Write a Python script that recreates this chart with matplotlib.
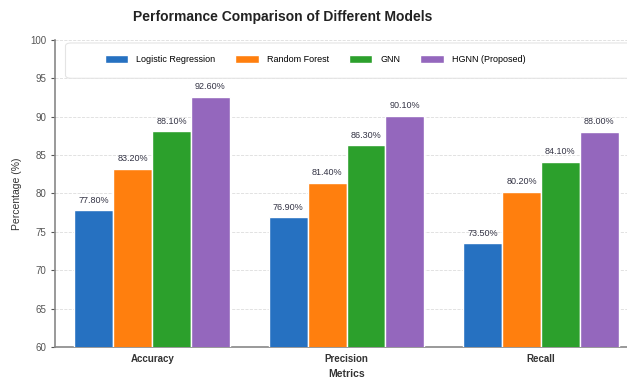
import matplotlib.pyplot as plt
from matplotlib.patches import FancyBboxPatch
import numpy as np

plt.rcParams['font.family'] = ['Liberation Sans', 'DejaVu Sans']

metrics = ['Accuracy', 'Precision', 'Recall']
models = ['Logistic Regression', 'Random Forest', 'GNN', 'HGNN (Proposed)']
lr = [77.8, 76.9, 73.5]
rf = [83.2, 81.4, 80.2]
gnn = [88.1, 86.3, 84.1]
hgnn = [92.6, 90.1, 88.0]
colors = ['#2671c1', '#ff7f0e', '#2ca02c', '#9467bd']

fig = plt.figure(figsize=(6.27, 3.80), dpi=100)
ax = fig.add_axes([0.0877, 0.087, 0.93, 0.808])

x = np.arange(len(metrics))
w = 0.2
for i, (vals, name) in enumerate(zip([lr, rf, gnn, hgnn], models)):
    bars = ax.bar(x + (i - 1.5) * w, vals, w, color=colors[i], label=name,
                  edgecolor='white', linewidth=1, zorder=3)
    for b, v in zip(bars, vals):
        ax.annotate(f'{v:.2f}%', (b.get_x() + b.get_width() / 2, v),
                    xytext=(0, 4), textcoords='offset points',
                    ha='center', va='bottom', fontsize=6.5, color='#333344')

ax.set_ylim(60, 100)
ax.set_xlim(-0.5, 2.5)
ax.set_yticks(range(60, 101, 5))
ax.set_xticks(x)
ax.set_xticklabels(metrics, fontweight='bold', fontsize=7, color='#333333')
ax.tick_params(axis='y', labelsize=7, colors='#555555', length=3)
ax.tick_params(axis='x', length=0, pad=5)
ax.grid(axis='y', linestyle='--', color='#dddddd', linewidth=0.6, zorder=0)
for s in ['top', 'right']:
    ax.spines[s].set_visible(False)
for s in ['left', 'bottom']:
    ax.spines[s].set_color('#888888')
    ax.spines[s].set_linewidth(1.2)

ax.set_ylabel('Percentage (%)', fontsize=7.5, color='#333333', labelpad=6)
ax.set_xlabel('Metrics', fontsize=7.5, fontweight='bold', color='#333333', labelpad=4)

box = FancyBboxPatch((0.018, 0.875), 0.975, 0.115, transform=ax.transAxes,
                     boxstyle='round,pad=0,rounding_size=0.01',
                     facecolor='white', edgecolor='#e4e4e4', linewidth=0.8, zorder=4)
ax.add_patch(box)
ax.legend(loc='center', bbox_to_anchor=(0.446, 0.935), ncol=4, frameon=False,
          fontsize=6.5, handlelength=2.6, handleheight=0.9, columnspacing=2.2,
          handletextpad=0.9)

fig.text(283 / 627, 1 - 17 / 380, 'Performance Comparison of Different Models',
         ha='center', va='center', fontsize=10, fontweight='bold', color='#222222')

fig.savefig('out.png', dpi=100)
